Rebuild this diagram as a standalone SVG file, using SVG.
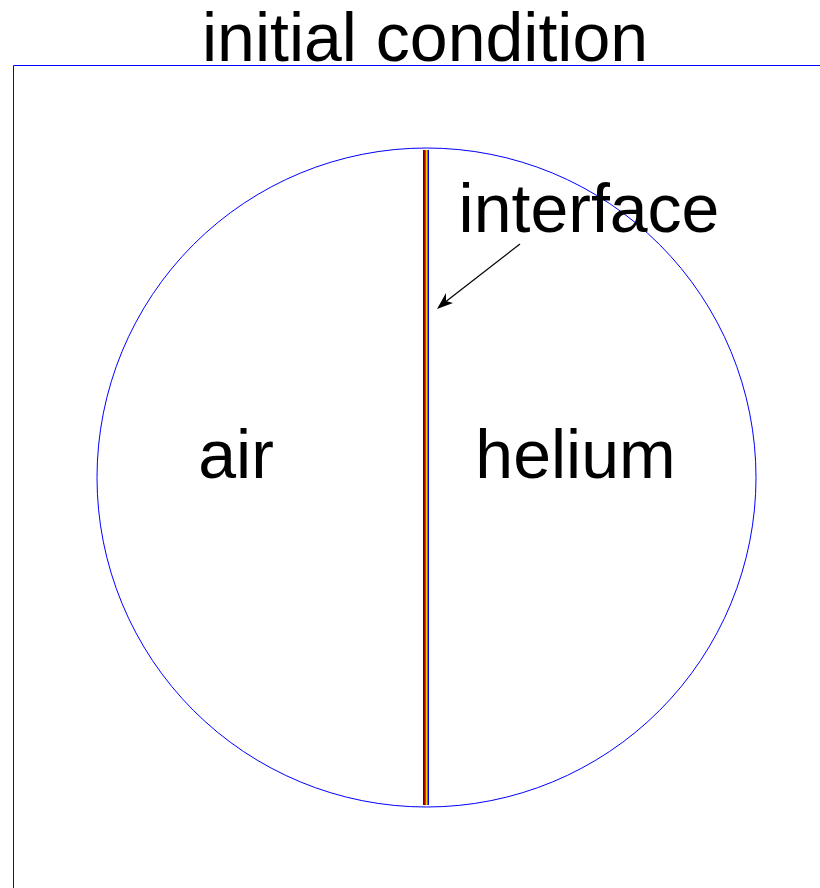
<svg xmlns="http://www.w3.org/2000/svg" width="820" height="888" viewBox="0 0 820 888">
<style>
text{font-family:"Liberation Sans",Arial,sans-serif;fill:#000;font-size:68px;text-anchor:middle}
.frame{stroke:#0000ff;stroke-width:1;fill:none}
</style>
<rect width="820" height="888" fill="#fff"/>
<g id="frame">
<path class="frame" d="M13.5,888 V65.5 H820"/>
</g>
<g id="title"><text x="425" y="61">initial condition</text></g>
<g id="domain">
<circle class="frame" cx="426.5" cy="477.5" r="329.5"/>
</g>
<g id="interface">
<line x1="423.5" y1="150" x2="423.5" y2="805" stroke="#6b0000"/>
<line x1="424.5" y1="150" x2="424.5" y2="805" stroke="#b00000"/>
<line x1="425.5" y1="150" x2="425.5" y2="805" stroke="#ff2000"/>
<line x1="426.5" y1="150" x2="426.5" y2="805" stroke="#ffd000"/>
<line x1="427.5" y1="150" x2="427.5" y2="805" stroke="#00a0ff"/>
<line x1="428.5" y1="150" x2="428.5" y2="805" stroke="#0000ff"/>
</g>
<g id="labels">
<text x="236" y="478">air</text>
<text x="575.5" y="478">helium</text>
<text x="589" y="232">interface</text>
</g>
<g id="connectors">
<line x1="520" y1="244" x2="444" y2="303" stroke="#000" stroke-width="1.2"/>
<polygon points="437,309 446,293 446,301 453,303" fill="#000"/>
</g>
</svg>
